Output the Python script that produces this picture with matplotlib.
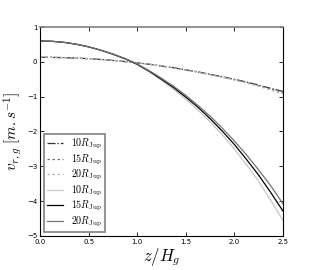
import matplotlib
matplotlib.use("Agg")
import matplotlib.pyplot as plt

plt.rcParams['mathtext.fontset'] = 'cm'
plt.rcParams['font.family'] = 'DejaVu Sans'

z = [0.0, 0.125, 0.25, 0.375, 0.5, 0.625, 0.75, 0.875, 1.0, 1.125, 1.25,
     1.375, 1.5, 1.625, 1.75, 1.875, 2.0, 2.125, 2.25, 2.375, 2.5]

dot_10 = [0.13, 0.128, 0.12, 0.107, 0.09, 0.068, 0.04, 0.008, -0.03, -0.07, -0.12,
          -0.17, -0.23, -0.29, -0.36, -0.43, -0.50, -0.58, -0.67, -0.76, -0.85]
dot_15 = [0.13, 0.128, 0.12, 0.107, 0.09, 0.068, 0.04, 0.008, -0.03, -0.07, -0.12,
          -0.17, -0.23, -0.29, -0.36, -0.43, -0.51, -0.59, -0.68, -0.78, -0.88]
dot_20 = [0.13, 0.128, 0.12, 0.107, 0.09, 0.068, 0.04, 0.008, -0.03, -0.07, -0.12,
          -0.18, -0.24, -0.30, -0.37, -0.44, -0.52, -0.61, -0.70, -0.81, -0.92]

sol_10 = [0.60, 0.589, 0.557, 0.505, 0.43, 0.333, 0.215, 0.08, -0.085, -0.29, -0.53,
          -0.79, -1.07, -1.38, -1.72, -2.09, -2.50, -2.95, -3.43, -3.97, -4.55]
sol_15 = [0.60, 0.589, 0.558, 0.505, 0.43, 0.335, 0.22, 0.09, -0.07, -0.27, -0.50,
          -0.74, -1.01, -1.30, -1.63, -1.985, -2.37, -2.80, -3.25, -3.75, -4.28]
sol_20 = [0.60, 0.589, 0.559, 0.506, 0.432, 0.337, 0.225, 0.095, -0.06, -0.255, -0.47,
          -0.70, -0.96, -1.25, -1.56, -1.90, -2.27, -2.67, -3.10, -3.56, -4.07]

labels = [r'$10R_{\rm Jup}$', r'$15R_{\rm Jup}$', r'$20R_{\rm Jup}$']

xticks = [0.0, 0.5, 1.0, 1.5, 2.0, 2.5]
yticks = [-5, -4, -3, -2, -1, 0, 1]

fig = plt.figure(figsize=(3.15, 2.7), dpi=100)
ax = fig.add_axes([0.127, 0.126, 0.771, 0.774])

ax.plot(z, dot_10, linestyle='-.', color='0.2', lw=0.9, label=labels[0])
ax.plot(z, dot_15, linestyle='--', color='0.45', lw=0.9, label=labels[1], dashes=(2, 2))
ax.plot(z, dot_20, linestyle='--', color='0.7', lw=0.9, label=labels[2], dashes=(2, 2))
ax.plot(z, sol_10, '-', color='0.78', lw=0.9, label=labels[0])
ax.plot(z, sol_15, '-', color='0.0', lw=0.9, label=labels[1])
ax.plot(z, sol_20, '-', color='0.45', lw=0.9, label=labels[2])

ax.set_xlim(0, 2.5)
ax.set_ylim(-5, 1)
ax.set_xticks(xticks)
ax.set_yticks(yticks)
ax.set_xticklabels([f'{t:.1f}' for t in xticks])
ax.set_yticklabels([str(t).replace('-', '\u2212') for t in yticks])
ax.tick_params(direction='in', labelsize=5, length=3, width=0.6, top=True, right=True, pad=2)
for s in ax.spines.values():
    s.set_linewidth(0.8)
ax.spines['top'].set_color('0.5')
ax.spines['top'].set_linewidth(1.2)

ax.set_xlabel(r'$z/H_g$', fontsize=12, labelpad=1)
ax.set_ylabel(r'$v_{r,g}\ [m.s^{-1}]$', fontsize=11, labelpad=2)

leg = ax.legend(loc='lower left', fontsize=7.2, fancybox=False, framealpha=1,
                handlelength=1.6, labelspacing=0.12, borderpad=0.3,
                borderaxespad=0.4, handletextpad=0.8)
leg.get_frame().set_edgecolor('0.5')
leg.get_frame().set_linewidth(1.2)

fig.savefig('out.png', dpi=100, facecolor='white')
